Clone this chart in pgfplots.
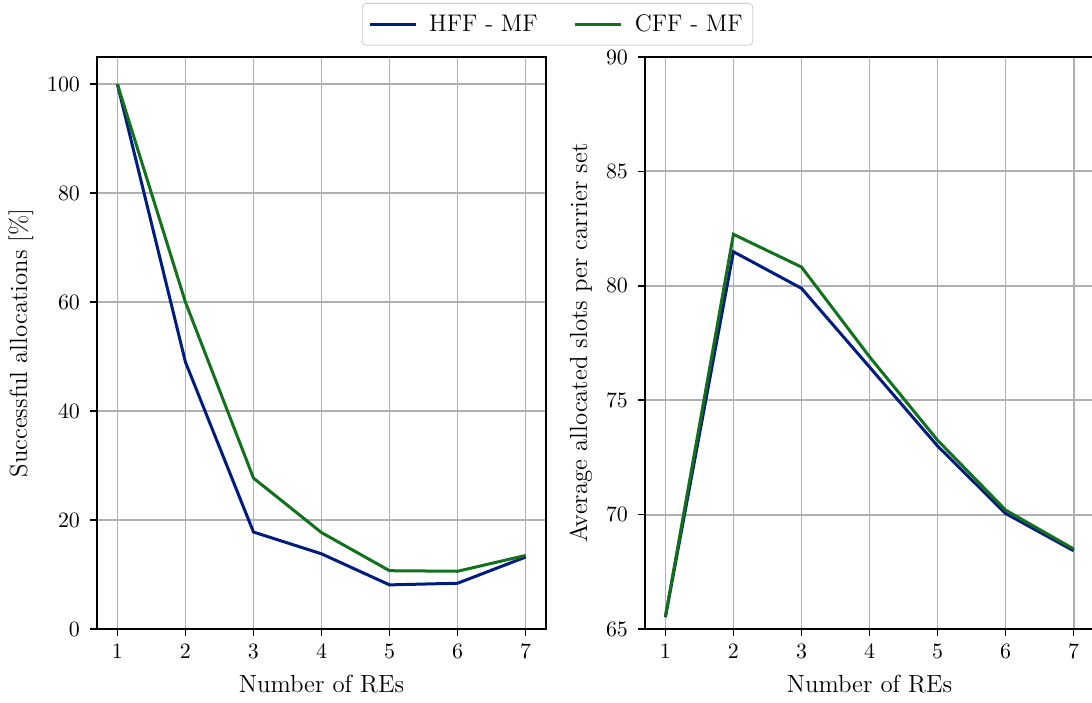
\documentclass[border=0pt]{standalone}
\usepackage{pgfplots}
\pgfplotsset{compat=1.18}
\definecolor{hffc}{HTML}{001C7F}
\definecolor{cffc}{HTML}{12711C}
\definecolor{gridc}{HTML}{B0B0B0}
\begin{document}
\begin{tikzpicture}
\useasboundingbox (0,0) rectangle (546pt,351pt);
\clip (0,0) rectangle (546pt,351pt);
\pgfplotsset{
  common/.style={
    scale only axis, width=224.5pt, height=286pt,
    anchor=south west,
    xmin=0.7, xmax=7.3, xtick={1,2,3,4,5,6,7},
    tick pos=left, tick align=outside, major tick length=3.5pt,
    tick style={black, line width=0.8pt},
    axis line style={line width=0.8pt},
    grid=major, major grid style={gridc, line width=0.9pt},
    xlabel={Number of REs},
    every axis plot/.append style={line width=1.5pt, no marks},
    label style={font=\fontsize{12.4}{14}\selectfont},
    tick label style={font=\fontsize{11}{13}\selectfont},
    yticklabel style={xshift=-1.5pt},
    xticklabel style={yshift=-0.5pt},
    xlabel style={yshift=-1.5pt},
  }
}
\begin{axis}[common, at={(48.5pt,36.5pt)},
  ymin=0, ymax=105, ytick={0,20,40,60,80,100},
  ylabel={Successful allocations [\%]},
  legend columns=2,
  legend style={at={(1.0256,1.0944)}, anchor=north, draw=black!20, rounded corners=2pt,
    font=\fontsize{12}{14}\selectfont, inner xsep=3pt, inner ysep=3.5pt,
    /tikz/every odd column/.append style={column sep=4pt},
    /tikz/every even column/.append style={column sep=16pt}},
  legend image code/.code={\draw[#1] (0pt,0pt) -- (23pt,0pt);},
]
\addplot[hffc] coordinates {(1,100) (2,49.0) (3,17.8) (4,13.8) (5,8.1) (6,8.4) (7,13.2)};
\addlegendentry{HFF - MF}
\addplot[cffc] coordinates {(1,100) (2,60.0) (3,27.7) (4,17.7) (5,10.7) (6,10.6) (7,13.5)};
\addlegendentry{CFF - MF}
\end{axis}
\begin{axis}[common, at={(322.5pt,36.5pt)},
  ymin=65, ymax=90, ytick={65,70,75,80,85,90},
  ylabel={Average allocated slots per carrier set},
]
\addplot[hffc] coordinates {(1,65.52) (2,81.49) (3,79.89) (4,76.45) (5,73.0) (6,70.05) (7,68.42)};
\addplot[cffc] coordinates {(1,65.55) (2,82.25) (3,80.82) (4,76.9) (5,73.25) (6,70.2) (7,68.5)};
\end{axis}
\end{tikzpicture}
\end{document}
